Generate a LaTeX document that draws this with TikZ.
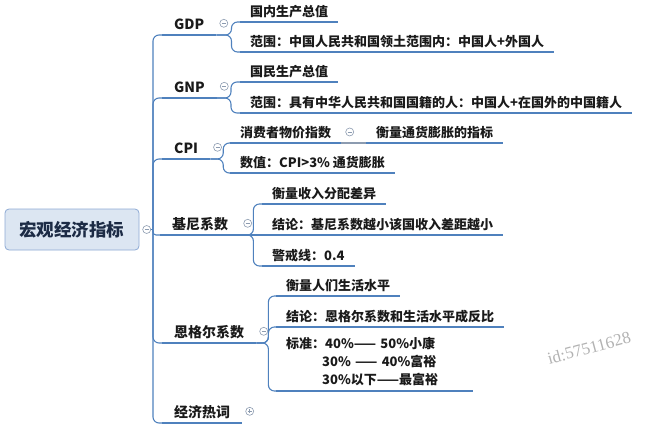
\documentclass[tikz,border=0pt]{standalone}
\usepackage{fontspec}
\setmainfont{Noto Sans CJK SC}
\newfontfamily\markfont{Liberation Serif}
\usetikzlibrary{positioning}
\definecolor{lineblue}{HTML}{4F81BD}
\definecolor{rootfill}{HTML}{DCE6F2}
\definecolor{rootdraw}{HTML}{8DA9D4}
\definecolor{rootink}{HTML}{1C2B45}
\definecolor{foldgray}{HTML}{8C9BB0}
\definecolor{inkblack}{HTML}{1A1A1A}

\begin{document}
\begin{tikzpicture}[x=1pt,y=-1pt,text=inkblack,
  root/.style={draw=rootdraw,fill=rootfill,line width=0.8pt,rounded corners=4pt,
    minimum width=134pt,minimum height=41pt,text=rootink,
    font=\fontsize{17.5}{20}\selectfont\bfseries},
  cat/.style={anchor=south west,inner xsep=12pt,inner ysep=3pt,text height=0.85em,
    text depth=0.25em,font=\fontsize{14}{16}\selectfont\bfseries},
  leaf/.style={anchor=south west,inner xsep=10pt,inner ysep=3pt,text depth=0.25em,
    font=\fontsize{13}{18}\selectfont\bfseries},
  uline/.style={lineblue,line width=2.6pt},
  branch/.style={lineblue,line width=1.1pt,rounded corners=6pt},
  link/.style={foldgray,line width=1.4pt},
  fold/.style={circle,draw=foldgray,line width=0.6pt,fill=white,minimum size=8pt,inner sep=0pt},
  foldminus/.style={fold,path picture={\draw[foldgray,line width=0.6pt]
    ([xshift=2pt]path picture bounding box.west) -- ([xshift=-2pt]path picture bounding box.east);}},
  foldplus/.style={fold,path picture={\draw[foldgray,line width=0.6pt]
    ([xshift=2pt]path picture bounding box.west) -- ([xshift=-2pt]path picture bounding box.east)
    ([yshift=-2pt]path picture bounding box.north) -- ([yshift=2pt]path picture bounding box.south);}},
  watermark/.style={font=\markfont\fontsize{17}{20}\selectfont,text=black!30}]
\useasboundingbox (0,0) rectangle (669,436);

% root
\node[root] (root) at (72,229.5) {宏观经济指标};
\node[foldminus,right=3pt of root] (rootF) {};
\coordinate (trunk) at (153,229.5);

% categories
\node[cat] (gdp) at (162,35) {GDP};
\node[cat] (gnp) at (162,98) {GNP};
\node[cat] (cpi) at (162,159) {CPI};
\node[cat] (gini) at (160,235) {基尼系数};
\node[cat] (engel) at (162,343) {恩格尔系数};
\node[cat] (hot) at (162,423) {经济热词};

% leaves
\node[leaf] (gdp1) at (240,22) {国内生产总值};
\node[leaf] (gdp2) at (240,52) {范围：中国人民共和国领土范围内：中国人+外国人};
\node[leaf] (gnp1) at (240,82) {国民生产总值};
\node[leaf] (gnp2) at (240,113) {范围：具有中华人民共和国国籍的人：中国人+在国外的中国籍人};
\node[leaf] (cpi1) at (230,143) {消费者物价指数};
\node[leaf] (cpi11) at (366,143) {衡量通货膨胀的指标};
\node[leaf] (cpi2) at (230,173) {数值：CPI>3\%\ 通货膨胀};
\node[leaf] (gini1) at (262,204) {衡量收入分配差异};
\node[leaf] (gini2) at (262,235) {结论：基尼系数越小该国收入差距越小};
\node[leaf] (gini3) at (262,266) {警戒线：0.4};
\node[leaf] (engel1) at (276,296) {衡量人们生活水平};
\node[leaf] (engel2) at (276,327) {结论：恩格尔系数和生活水平成反比};
\node[leaf,text width=177pt,align=left,text depth=39.2pt] (engel3) at (276,391)
  {标准：40\%—— 50\%小康\\\hspace*{36pt}30\% —— 40\%富裕\\\hspace*{36pt}30\%以下——最富裕};

\foreach \n in {gdp,gnp,cpi,gini,engel,hot,gdp1,gdp2,gnp1,gnp2,cpi1,cpi11,cpi2,
  gini1,gini2,gini3,engel1,engel2,engel3}
  \draw[uline] (\n.south west) -- (\n.south east);

% main branches
\draw[branch] (rootF.east) -- (trunk);
\draw[branch] (trunk) |- (gdp.south west);
\draw[branch] (trunk) |- (gnp.south west);
\draw[branch] (trunk) |- (cpi.south west);
\draw[branch,rounded corners=3pt] (trunk) |- (gini.south west);
\draw[branch] (trunk) |- (engel.south west);
\draw[branch] (trunk) |- (hot.south west);

% sub branches
\draw[branch] (gdp.south east) -- ++(15,0) |- (gdp1.south west);
\draw[branch] (gdp.south east) -- ++(15,0) |- (gdp2.south west);
\draw[branch] (gnp.south east) -- ++(14,0) |- (gnp1.south west);
\draw[branch] (gnp.south east) -- ++(14,0) |- (gnp2.south west);
\draw[branch] (cpi.south east) -- ++(13,0) |- (cpi1.south west);
\draw[branch] (cpi.south east) -- ++(13,0) |- (cpi2.south west);
\draw[link] (cpi1.south east) -- (cpi11.south west);
\draw[branch] (gini.south east) -- ++(13,0) |- (gini1.south west);
\draw[branch] (gini.south east) -- (gini2.south west);
\draw[branch] (gini.south east) -- ++(13,0) |- (gini3.south west);
\draw[branch] (engel.south east) -- ++(12,0) |- (engel1.south west);
\draw[branch] (engel.south east) -- ++(12,0) |- (engel2.south west);
\draw[branch] (engel.south east) -- ++(12,0) |- (engel3.south west);

% fold marks
\node[foldminus,right=3pt of gdp.east,yshift=3pt] (gdpF) {};
\node[foldminus,right=3pt of gnp.east,yshift=3pt] (gnpF) {};
\node[foldminus,right=3pt of cpi.east,yshift=3pt] (cpiF) {};
\node[foldminus,right=3pt of gini.east,yshift=3pt] (giniF) {};
\node[foldminus,right=3pt of engel.east,yshift=3pt] (engelF) {};
\node[foldplus,right=3pt of hot.east,yshift=3pt] (hotF) {};
\node[foldminus,right=4pt of cpi1.east,yshift=1pt] (cpi1F) {};

\node[watermark,rotate=15] (wm) at (589,348) {id:57511628};
\end{tikzpicture}
\end{document}
